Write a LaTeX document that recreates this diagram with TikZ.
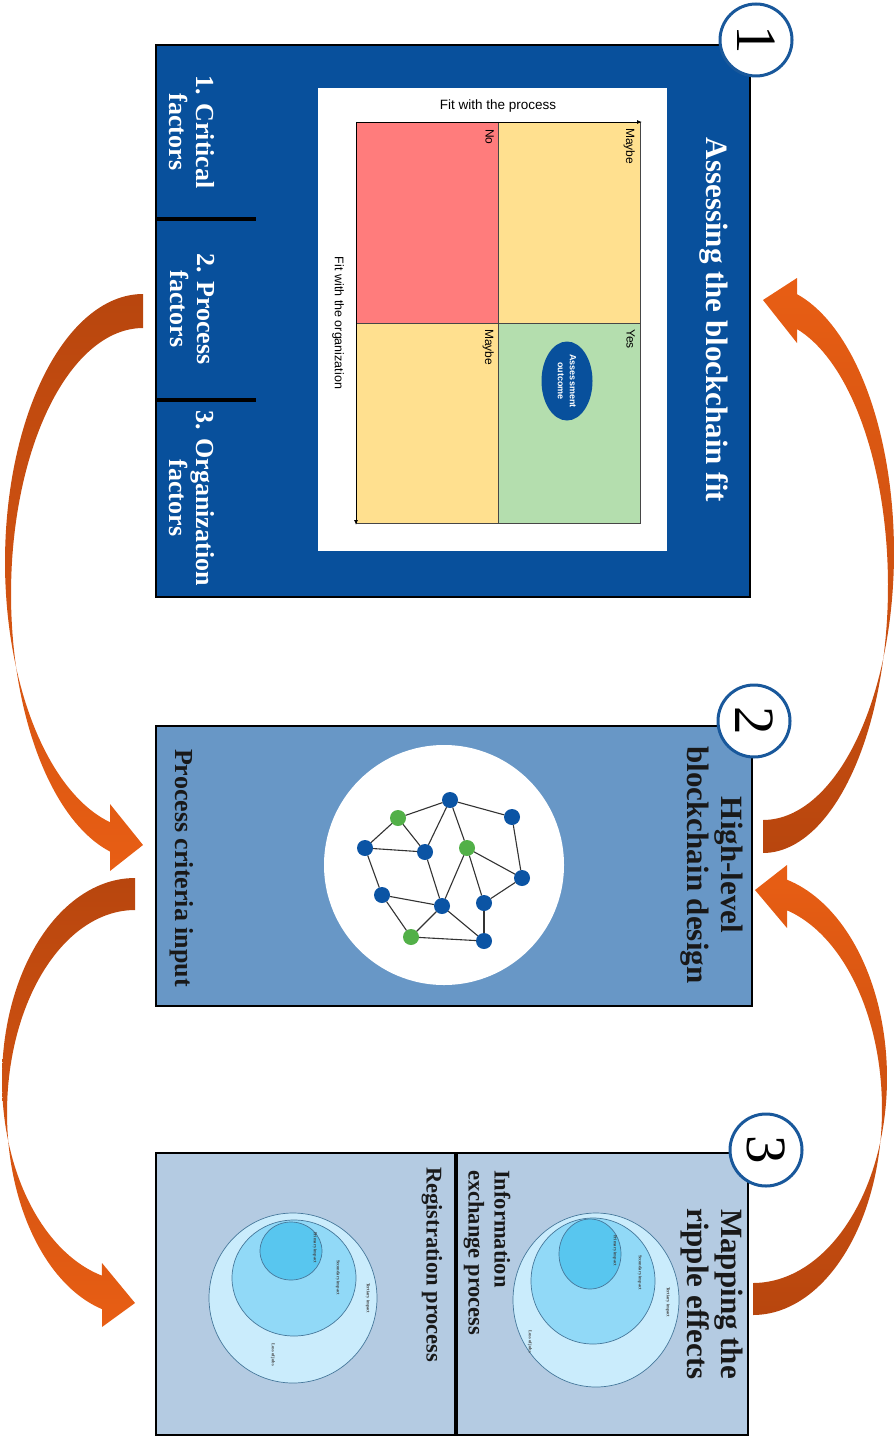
\documentclass[tikz,border=0pt]{standalone}
\usepackage{fontspec}
\setmainfont{Liberation Serif}
\newfontfamily\arialf{Liberation Sans}
\usetikzlibrary{arrows.meta,shapes.geometric}
\definecolor{boxone}{RGB}{8,80,156}
\definecolor{boxtwo}{RGB}{104,151,198}
\definecolor{boxthree}{RGB}{180,203,226}
\definecolor{numblue}{RGB}{25,88,155}
\definecolor{qred}{RGB}{255,124,124}
\definecolor{qyellow}{RGB}{255,224,143}
\definecolor{qgreen}{RGB}{180,222,174}
\definecolor{netblue}{RGB}{11,84,164}
\definecolor{netgreen}{RGB}{82,176,72}
\definecolor{arrdark}{RGB}{184,70,14}
\definecolor{arrlight}{RGB}{232,94,20}
\definecolor{ripA}{RGB}{202,236,252}
\definecolor{ripB}{RGB}{145,217,247}
\definecolor{ripC}{RGB}{88,198,239}
\definecolor{ripline}{RGB}{70,120,155}
\definecolor{gridgray}{RGB}{70,70,70}
\begin{document}
\begin{tikzpicture}[x=1pt,y=-1pt,
  panel/.style={rectangle, draw=black, line width=1.5pt, inner sep=0pt, outer sep=0pt},
  numcirc/.style={circle, draw=numblue, line width=3pt, fill=white, minimum size=72pt, inner sep=0pt, font=\fontsize{57}{57}\selectfont, rotate=-90},
  titletext/.style={rotate=-90, font=\bfseries\fontsize{31}{34}\selectfont, align=center, inner sep=0pt},
  factortext/.style={rotate=-90, font=\bfseries\fontsize{26}{27}\selectfont, align=center, inner sep=0pt, text=white},
  subtext/.style={rotate=-90, font=\bfseries\fontsize{22.5}{26}\selectfont, align=left, inner sep=0pt, anchor=west, text=black!90},
  celllabel/.style={rotate=-90, font=\arialf\fontsize{12}{12}\selectfont, inner sep=0pt, anchor=north west},
  cell/.style={rectangle, inner sep=0pt, outer sep=0pt, minimum width=142pt, minimum height=201pt},
  netnode/.style={circle, minimum size=16pt, inner sep=0pt, outer sep=0pt},
  netedge/.style={draw=black!80, line width=1.1pt},
  ripring/.style={draw=ripline, line width=0.7pt},
  tinytext/.style={rotate=-90, font=\bfseries\fontsize{4.5}{5}\selectfont, inner sep=0pt, anchor=west, text=black!75},
  ribbonA/.style={top color=arrdark, bottom color=arrlight},
  ribbonB/.style={top color=arrlight, bottom color=arrdark}
]
\useasboundingbox (0,0) rectangle (895,1439);

% ---------- Panel 1 ----------
\node[panel, fill=boxone, minimum width=594pt, minimum height=552pt] (b1) at (453,321) {};
\fill[white] (318,88) rectangle (667,551);
\node[cell, fill=qred] (cno) at (427,222.5) {};
\node[cell, fill=qyellow] (cmtop) at (569,222.5) {};
\node[cell, fill=qyellow] (cmbot) at (427,423) {};
\node[cell, fill=qgreen] (cyes) at (569,423) {};
\draw[gridgray, line width=0.8pt] (356,122) rectangle (640,523) (498,122) -- (498,523) (356,323) -- (640,323);
\coordinate (axo) at (356,122);
\coordinate (axr) at (642,122);
\coordinate (axd) at (356,525);
\draw[black, line width=0.9pt, -{Latex[length=5pt,width=4pt]}] (axo) -- (axr);
\draw[black, line width=0.9pt, -{Latex[length=5pt,width=4pt]}] (axo) -- (axd);
\node[font=\arialf\fontsize{13.5}{14}\selectfont, inner sep=0pt] (fitp) at (498,106) {Fit with the process};
\node[rotate=-90, font=\arialf\fontsize{12.5}{13}\selectfont, inner sep=0pt] (fito) at (338,323) {Fit with the organization};
\node[celllabel] (lno) at (494,129) {No};
\node[celllabel] (lm1) at (635,128) {Maybe};
\node[celllabel] (lm2) at (494,329) {Maybe};
\node[celllabel] (lyes) at (635,329) {Yes};
\node[ellipse, rotate=-90, minimum width=79pt, minimum height=51pt, fill=boxone, text=white, font=\arialf\bfseries\fontsize{9}{12}\selectfont, align=center, inner sep=0pt] (ao) at (567,381) {Assessment\\outcome};
\node[titletext, text=white] (t1) at (714,320) {Assessing the blockchain fit};
\draw[black, line width=4pt] (156,219) -- (256,219);
\draw[black, line width=4pt] (156,400) -- (256,400);
\node[factortext] (f1) at (192,132) {1. Critical\\factors};
\node[factortext] (f2) at (192,309) {2. Process\\factors};
\node[factortext] (f3) at (192,498) {3. Organization\\factors};

% ---------- Panel 2 ----------
\node[panel, fill=boxtwo, minimum width=596pt, minimum height=280pt] (b2) at (454,866) {};
\fill[white] (444,865) circle [radius=120];
\node[netnode, fill=netblue] (A) at (450,800) {};
\node[netnode, fill=netblue] (B) at (512,817) {};
\node[netnode, fill=netgreen] (C) at (398,818) {};
\node[netnode, fill=netblue] (D) at (365,848) {};
\node[netnode, fill=netblue] (E) at (425,852) {};
\node[netnode, fill=netgreen] (F) at (467,848) {};
\node[netnode, fill=netblue] (G) at (522,878) {};
\node[netnode, fill=netblue] (H) at (382,895) {};
\node[netnode, fill=netblue] (I) at (442,906) {};
\node[netnode, fill=netblue] (J) at (484,903) {};
\node[netnode, fill=netgreen] (K) at (411,937) {};
\node[netnode, fill=netblue] (L) at (484,941) {};
\foreach \u/\v in {A/C,A/B,A/E,A/F,C/D,C/E,D/E,D/H,E/I,F/I,F/G,F/J,B/G,G/J,H/I,H/K,I/K,I/L,J/L,K/L}
  \draw[netedge] (\u) -- (\v);
\node[titletext, text=black!90] (t2) at (712,865) {High-level\\blockchain design};
\node[rotate=-90, font=\bfseries\fontsize{26}{27}\selectfont, inner sep=0pt, text=black!90] (pci) at (182,868) {Process criteria input};

% ---------- Panel 3 ----------
\node[panel, fill=boxthree, minimum width=592pt, minimum height=282pt] (b3) at (452,1294) {};
\draw[black, line width=4pt] (456,1153) -- (456,1435);
\node[titletext, text=black!90] (t3) at (712,1294) {Mapping the\\ripple effects};
\node[subtext] (iep) at (487,1170) {Information\\exchange process};
\node[subtext] (rp) at (432,1167) {Registration process};
% ripple rings, information exchange
\draw[ripring, fill=ripA] (596,1300) ellipse [x radius=83, y radius=87];
\draw[ripring, fill=ripB] (593,1281) ellipse [x radius=62, y radius=63];
\draw[ripring, fill=ripC] (590,1254) ellipse [x radius=31, y radius=35];
\node[tinytext] (ie1) at (615,1235) {Primary impact};
\node[tinytext] (ie2) at (640,1255) {Secondary impact};
\node[tinytext] (ie3) at (668,1287) {Tertiary impact};
\node[tinytext] (ie4) at (530,1330) {Loss of jobs};
% ripple rings, registration
\draw[ripring, fill=ripA] (293,1298) ellipse [x radius=84, y radius=85];
\draw[ripring, fill=ripB] (294,1278) ellipse [x radius=62, y radius=58];
\draw[ripring, fill=ripC] (291,1251) ellipse [x radius=31, y radius=29];
\node[tinytext] (rg1) at (315,1232) {Primary impact};
\node[tinytext] (rg2) at (338,1260) {Secondary impact};
\node[tinytext] (rg3) at (368,1283) {Tertiary impact};
\node[tinytext] (rg4) at (273,1343) {Loss of jobs};

% ---------- number badges ----------
\node[numcirc] (n1) at (756,40) {1};
\node[numcirc] (n2) at (754,721) {2};
\node[numcirc] (n3) at (766,1150) {3};

% ---------- ribbon arrows ----------
% left top: factors -> process criteria input
\shade[ribbonA]
  plot[domain=270:103.8, samples=90, variable=\t] ({143+138*cos(\t)},{562+268*sin(\t)})
  -- (110,804) -- (143,845) -- (110,871)
  -- plot[domain=104.4:270, samples=90, variable=\t] ({143+132*cos(\t)},{594+266*sin(\t)})
  -- cycle;
% left bottom: process criteria input -> panel 3
\shade[ribbonA]
  plot[domain=270:104.4, samples=90, variable=\t] ({135+133*cos(\t)},{1080+202*sin(\t)})
  -- (102,1263) -- (135,1303) -- (102,1327)
  -- plot[domain=104.9:270, samples=90, variable=\t] ({135+128*cos(\t)},{1113+203*sin(\t)})
  -- cycle;
% right top: panel 2 -> panel 1
\shade[ribbonB]
  plot[domain=90:-74.96, samples=90, variable=\t] ({763+131*cos(\t)},{552.5+267.5*sin(\t)})
  -- (797,278) -- (763,300) -- (797,343)
  -- plot[domain=-74.22:90, samples=90, variable=\t] ({763+125*cos(\t)},{586+267*sin(\t)})
  -- cycle;
% right bottom: panel 3 -> panel 2
\shade[ribbonB]
  plot[domain=90:-75.3, samples=90, variable=\t] ({753+134*cos(\t)},{1078+205*sin(\t)})
  -- (787,865) -- (755,890) -- (787,928)
  -- plot[domain=-74.72:90, samples=90, variable=\t] ({753+129*cos(\t)},{1109+206*sin(\t)})
  -- cycle;
\end{tikzpicture}
\end{document}
